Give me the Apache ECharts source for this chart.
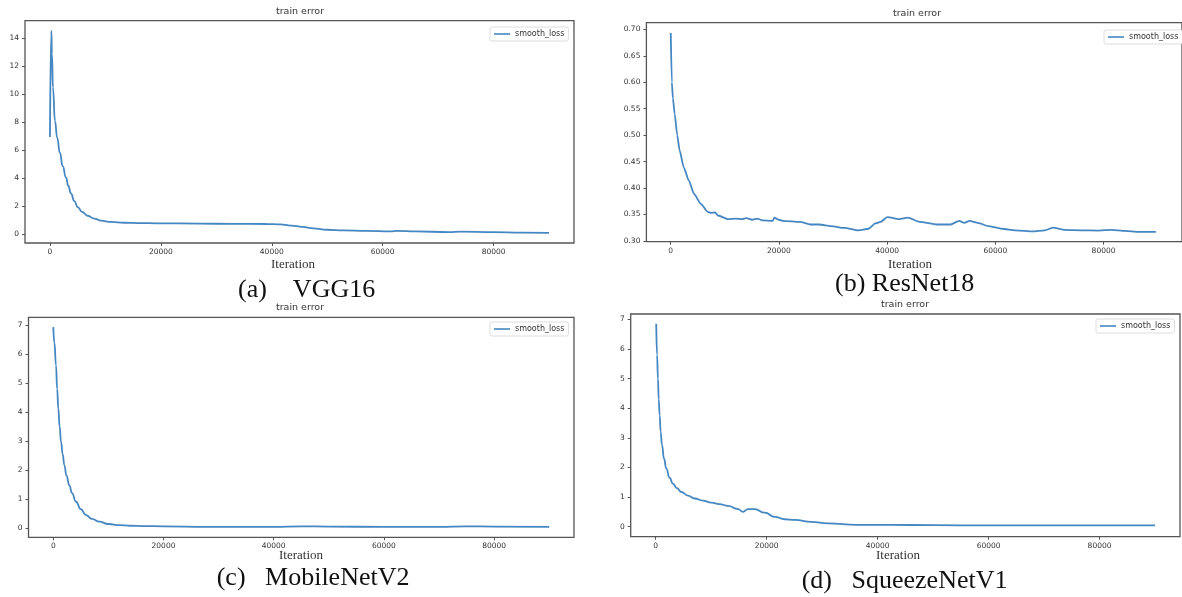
<!DOCTYPE html>
<html>
<head>
<meta charset="utf-8">
<script src="https://cdn.jsdelivr.net/npm/echarts@6/dist/echarts.min.js"></script>
<style>
  html, body { margin: 0; padding: 0; background: #fff; }
  #chart { width: 1182px; height: 597px; }
</style>
</head>
<body>
<div id="chart"></div>
<script>
// ---- training loss curves (iteration, smoothed loss) ----
const vggIter  = [0, 250, 360, 540, 900, 1300, 1800, 2300, 2890, 3300, 3790, 4400, 4990, 5800, 6790, 8000, 9200, 11000, 13400, 16000, 19400, 27000, 33000, 39000, 41500, 43500, 45500, 47500, 50000, 53000, 57000, 61500, 62500, 66000, 72000, 74000, 80000, 85000, 90000];
const vggLoss  = [6.94, 14.55, 12.9, 10.5, 8.1, 6.9, 5.8, 4.85, 4.05, 3.45, 2.9, 2.35, 1.92, 1.58, 1.3, 1.1, 0.95, 0.86, 0.8, 0.78, 0.76, 0.74, 0.72, 0.71, 0.68, 0.6, 0.5, 0.4, 0.3, 0.25, 0.22, 0.18, 0.22, 0.18, 0.13, 0.17, 0.13, 0.1, 0.07];

const resIter  = [0, 200, 400, 730, 1200, 1640, 2400, 3350, 4300, 5565, 6830, 7460, 8200, 8730, 10620, 12000, 13150, 14000, 15050, 16000, 16950, 18850, 19160, 20000, 20740, 23900, 25800, 27500, 29600, 32130, 34650, 36550, 37820, 38800, 40030, 42240, 43820, 46040, 49200, 51730, 53310, 54260, 55210, 56790, 58690, 61220, 63750, 66910, 69120, 70700, 72600, 76390, 78920, 81450, 83980, 86510, 89670];
const resLoss  = [0.693, 0.60, 0.57, 0.54, 0.50, 0.471, 0.439, 0.414, 0.389, 0.370, 0.355, 0.353, 0.354, 0.348, 0.341, 0.342, 0.341, 0.343, 0.340, 0.342, 0.339, 0.338, 0.344, 0.340, 0.338, 0.336, 0.331, 0.331, 0.328, 0.3245, 0.320, 0.323, 0.333, 0.336, 0.345, 0.341, 0.344, 0.336, 0.331, 0.331, 0.338, 0.334, 0.338, 0.334, 0.328, 0.323, 0.320, 0.318, 0.320, 0.325, 0.321, 0.320, 0.3195, 0.321, 0.319, 0.317, 0.317];

const mobIter  = [0, 200, 490, 700, 910, 1150, 1400, 1700, 2000, 2400, 2900, 3400, 4120, 5000, 5930, 7000, 8350, 10000, 11980, 14000, 16220, 20000, 27700, 35000, 40000, 45000, 50000, 60000, 70000, 75000, 80000, 90000];
const mobLoss  = [6.94, 6.4, 5.62, 4.8, 4.12, 3.5, 2.97, 2.55, 2.17, 1.8, 1.47, 1.2, 0.9, 0.64, 0.44, 0.31, 0.21, 0.13, 0.09, 0.07, 0.06, 0.05, 0.03, 0.03, 0.03, 0.05, 0.04, 0.03, 0.03, 0.05, 0.04, 0.03];

const sqzIter  = [100, 250, 410, 550, 720, 900, 1140, 1500, 1920, 2500, 3120, 3800, 4620, 5800, 7030, 8500, 10030, 11500, 13040, 14840, 15740, 16650, 17850, 19650, 21460, 23260, 25060, 28060, 31070, 36250, 42250, 50000, 60000, 70000, 80000, 90000];
const sqzLoss  = [6.85, 5.8, 5.0, 4.3, 3.76, 3.2, 2.75, 2.3, 1.96, 1.65, 1.45, 1.3, 1.17, 1.05, 0.95, 0.88, 0.81, 0.76, 0.7, 0.59, 0.5, 0.59, 0.59, 0.47, 0.33, 0.25, 0.23, 0.16, 0.11, 0.06, 0.06, 0.05, 0.04, 0.04, 0.04, 0.04];

// ---- tick labels ----
const iterTicks = [0, 20000, 40000, 60000, 80000];
const vggTicks  = [0, 2, 4, 6, 8, 10, 12, 14];
const resTicks  = [0.30, 0.35, 0.40, 0.45, 0.50, 0.55, 0.60, 0.65, 0.70];
const mobTicks  = [0, 1, 2, 3, 4, 5, 6, 7];
const sqzTicks  = [0, 1, 2, 3, 4, 5, 6, 7];

// ---- text ----
const plotTitle  = 'train error';
const seriesName = 'smooth_loss';
const xLabel     = 'Iteration';
const captions   = ['(a)    VGG16', '(b) ResNet18', '(c)   MobileNetV2', '(d)   SqueezeNetV1'];

const LINE = '#4587c2';
const INK = '#333';

// panel boxes: plot area in px and value ranges
const panels = [
  { box: [25, 20.7, 549, 222.3],   x: vggIter, y: vggLoss, yTicks: vggTicks, yMin: -0.65,  yMax: 15.27, dec: 0,
    title: [300, 12], legend: [490, 27], xl: [293, 265], cap: [238, 290] },
  { box: [646.4, 22.7, 540.6, 219], x: resIter, y: resLoss, yTicks: resTicks, yMin: 0.2985, yMax: 0.7125, dec: 2,
    title: [917, 14], legend: [1104, 30], xl: [910, 265], cap: [835, 284] },
  { box: [28.5, 317.3, 545.5, 220], x: mobIter, y: mobLoss, yTicks: mobTicks, yMin: -0.33,  yMax: 7.28, dec: 0,
    title: [300, 308], legend: [490, 322], xl: [301, 555.5], cap: [216.7, 578] },
  { box: [630.7, 314, 549.3, 222.7], x: sqzIter, y: sqzLoss, yTicks: sqzTicks, yMin: -0.34, yMax: 7.18, dec: 0,
    title: [905, 305], legend: [1096, 319], xl: [898, 555.5], cap: [801.7, 581] }
];

const tickFont = { fontFamily: 'DejaVu Sans', fontSize: 7.5, color: INK };

const grid = [], xAxis = [], yAxis = [], series = [], legend = [], graphic = [];

panels.forEach((p, i) => {
  grid.push({
    left: p.box[0], top: p.box[1], width: p.box[2], height: p.box[3],
    show: true, borderColor: '#555', borderWidth: 1.3, backgroundColor: '#fff'
  });
  xAxis.push({
    type: 'value', gridIndex: i, min: -4500, max: 94500, position: 'bottom',
    axisLine: { show: false, onZero: false },
    axisTick: { show: true, inside: false, length: 3, lineStyle: { color: '#555', width: 1 }, customValues: iterTicks },
    axisLabel: { ...tickFont, margin: 5, customValues: iterTicks, formatter: v => String(v) },
    splitLine: { show: false }
  });
  yAxis.push({
    type: 'value', gridIndex: i, min: p.yMin, max: p.yMax, position: 'left',
    axisLine: { show: false, onZero: false },
    axisTick: { show: true, inside: false, length: 3, lineStyle: { color: '#555', width: 1 }, customValues: p.yTicks },
    axisLabel: { ...tickFont, margin: 6, customValues: p.yTicks, formatter: v => v.toFixed(p.dec) },
    splitLine: { show: false }
  });
  series.push({
    type: 'line', name: seriesName, xAxisIndex: i, yAxisIndex: i,
    data: p.x.map((xv, k) => [xv, p.y[k]]),
    symbol: 'none', smooth: i === 1 ? 0.2 : 0.5, smoothMonotone: 'x',
    lineStyle: { color: LINE, width: 1.8 }, itemStyle: { color: LINE },
    clip: true, animation: false
  });
  legend.push({
    data: [{ name: seriesName, icon: 'rect' }], left: p.legend[0], top: p.legend[1],
    orient: 'horizontal', padding: [3, 4], itemWidth: 16, itemHeight: 1.6,
    backgroundColor: '#fff', borderColor: '#ddd', borderWidth: 1, borderRadius: 2,
    textStyle: { fontFamily: 'DejaVu Sans', fontSize: 8, color: INK },
    selectedMode: false
  });
  graphic.push({
    type: 'text', x: p.title[0], y: p.title[1],
    style: { text: plotTitle, font: '9.5px "DejaVu Sans"', fill: INK, align: 'center', verticalAlign: 'middle' }
  });
  graphic.push({
    type: 'text', x: p.xl[0], y: p.xl[1],
    style: { text: xLabel, font: '13px "Liberation Serif"', fill: INK, align: 'center', verticalAlign: 'middle' }
  });
  graphic.push({
    type: 'text', x: p.cap[0], y: p.cap[1],
    style: { text: captions[i], font: '26px "Liberation Serif"', fill: '#111', align: 'left', verticalAlign: 'middle' }
  });
});

const chart = echarts.init(document.getElementById('chart'), null, { renderer: 'canvas' });
chart.setOption({
  backgroundColor: '#fff',
  animation: false,
  grid, xAxis, yAxis, series, legend, graphic
});
</script>
</body>
</html>
